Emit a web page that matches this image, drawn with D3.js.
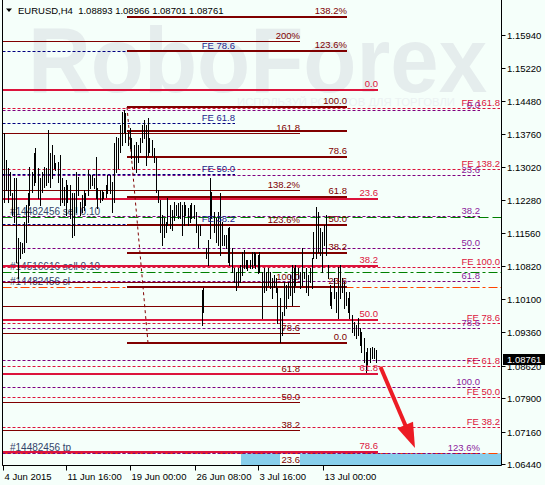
<!DOCTYPE html>
<html><head><meta charset="utf-8">
<script src="https://cdn.jsdelivr.net/npm/d3@7/dist/d3.min.js"></script>
<style>
html,body{margin:0;padding:0;background:#f5fffa;}
svg{display:block;font-family:"Liberation Sans",Arial,sans-serif;}
</style></head><body>
<svg id="chart" width="545" height="485"></svg>
<script>
// ---------------- DATA ----------------
const symbolTitle = "EURUSD,H4  1.08893 1.08966 1.08701 1.08761";
const lastPrice = 1.08761;

const barHigh = [1.1377,1.1317,1.1300,1.1291,1.1244,1.1278,1.1278,1.1145,1.1136,1.1134,
1.1180,1.1218,1.1244,1.1302,1.1291,1.1333,1.1344,1.1300,1.1278,1.1291,
1.1302,1.1300,1.1384,1.1333,1.1351,1.1328,1.1311,1.1313,1.1328,1.1278,
1.1258,1.1273,1.1262,1.1262,1.1244,1.1244,1.1291,1.1280,1.1224,1.1240,
1.1251,1.1244,1.1295,1.1284,1.1284,1.1278,1.1324,1.1255,1.1251,1.1251,
1.1247,1.1262,1.1284,1.1284,1.1269,1.1355,1.1368,1.1366,1.1395,1.1424,
1.1428,1.1421,1.1379,1.1388,1.1366,1.1351,1.1357,1.1351,1.1366,1.1395,
1.1406,1.1395,1.1410,1.1366,1.1362,1.1344,1.1322,1.1251,1.1229,1.1196,
1.1189,1.1180,1.1233,1.1218,1.1207,1.1224,1.1218,1.1222,1.1224,1.1218,
1.1224,1.1218,1.1211,1.1218,1.1222,1.1218,1.1202,1.1174,1.1174,1.1030,
1.1034,1.1123,1.1140,1.1278,1.1247,1.1202,1.1189,1.1202,1.1244,1.1180,
1.1151,1.1151,1.1167,1.1169,1.1123,1.1078,1.1070,1.1078,1.1085,1.1114,
1.1118,1.1096,1.1096,1.1096,1.1114,1.1114,1.1112,1.1107,1.1114,1.1070,
1.1078,1.1070,1.1078,1.1070,1.1056,1.1063,1.1056,1.1034,1.1012,1.0981,
1.1047,1.1041,1.1047,1.1063,1.1085,1.1078,1.1085,1.1078,1.1070,1.1123,
1.1070,1.1078,1.1063,1.1078,1.1101,1.1158,1.1213,1.1202,1.1167,1.1158,
1.1174,1.1196,1.1085,1.1041,1.1025,1.1056,1.1025,1.1081,1.1085,1.1056,
1.1047,1.1025,1.1012,1.1025,1.0974,1.0959,1.0952,1.0968,1.0946,1.0937,
1.0924,1.0893,1.0901,1.0901,1.0904,1.0901,1.08966];

const barLow = [1.1224,1.1251,1.1224,1.1240,1.1196,1.1180,1.1092,1.1056,1.1101,1.1112,
1.1114,1.1136,1.1180,1.1218,1.1247,1.1262,1.1269,1.1233,1.1218,1.1247,
1.1258,1.1262,1.1269,1.1258,1.1278,1.1300,1.1295,1.1269,1.1218,1.1224,
1.1218,1.1196,1.1224,1.1189,1.1147,1.1151,1.1202,1.1240,1.1196,1.1202,
1.1207,1.1218,1.1240,1.1255,1.1262,1.1255,1.1233,1.1211,1.1224,1.1229,
1.1233,1.1236,1.1244,1.1244,1.1202,1.1224,1.1291,1.1300,1.1335,1.1351,
1.1379,1.1357,1.1351,1.1344,1.1322,1.1300,1.1291,1.1313,1.1335,1.1357,
1.1366,1.1306,1.1328,1.1335,1.1328,1.1313,1.1247,1.1224,1.1158,1.1129,
1.1147,1.1158,1.1174,1.1167,1.1162,1.1185,1.1196,1.1189,1.1189,1.1151,
1.1174,1.1196,1.1174,1.1180,1.1189,1.1189,1.1158,1.1125,1.1151,1.0952,
1.0981,1.1101,1.1085,1.1145,1.1189,1.1158,1.1136,1.1129,1.1107,1.1129,
1.1129,1.1123,1.1092,1.1085,1.1070,1.1047,1.1030,1.1041,1.1047,1.1063,
1.1078,1.1078,1.1074,1.1078,1.1078,1.1085,1.1078,1.1067,1.1070,1.0968,
1.1025,1.1030,1.1041,1.1034,1.1012,1.1036,1.1025,1.0957,1.0915,1.0930,
1.0974,1.0990,1.1012,1.1019,1.0997,1.1025,1.1041,1.1056,1.1034,1.1041,
1.1056,1.1025,1.1019,1.1047,1.1034,1.1101,1.1101,1.1114,1.1107,1.1070,
1.1129,1.1107,1.1056,1.0997,1.0990,1.1012,1.0981,1.0968,1.1012,1.1025,
1.0990,1.0997,1.0981,1.0968,1.0937,1.0930,1.0924,1.0930,1.0908,1.0892,
1.0870,1.0848,1.0864,1.0870,1.0879,1.0879,1.08701];

const priceTicks = [1.15940,1.15220,1.14480,1.13760,1.13020,1.12280,1.11560,1.10820,1.10100,1.09360,1.08620,1.07900,1.07160,1.06440];
const timeTickBars = [0,32,64,96,128,160];
const timeTickLabels = ["4 Jun 2015","11 Jun 16:00","19 Jun 00:00","26 Jun 08:00","3 Jul 16:00","13 Jul 00:00"];

// Fibonacci objects: levels, labels, price at 0% and 100%, bar range
const crimsonLevels = [0,23.6,38.2,50,61.8,78.6];
const crimsonLabels = ["0.0","23.6","38.2","50.0","61.8","78.6"];
const crimsonAnchors = [1.14723,1.04544];
const crimsonBars = [-0.5,187.25];

const maroonLevels = [0,23.6,38.2,50,61.8,78.6,90,100,123.6,138.2];
const maroonLabels = ["0.0","23.6","38.2","50.0","61.8","78.6","","100.0","123.6%","138.2%"];
const maroonAnchors = [1.09124,1.14347];
const maroonBars = [61.75,171.75];
const maroonTrendBars = [61.75,72.25];

const thinLevels = [23.6,38.2,50,61.8,78.6,90,100,123.6,138.2,161.8,200];
const thinLabels = ["23.6","38.2","50.0","61.8","78.6","","100.0","123.6%","138.2%","161.8","200%"];
const thinAnchors = [1.05157,1.10481];
const thinBars = [-0.5,148.25];

const purpleLevels = [0,23.6,38.2,50,61.8,78.6,90,100,123.6];
const purpleLabels = ["0.0","23.6","38.2","50.0","61.8","78.6","","100.0","123.6%"];
const purpleAnchors = [1.14287,1.08144];
const purpleBars = [-0.5,238.25];

const feRedLevels = [38.2,50,61.8,78.6,100,138.2,161.8];
const feRedLabels = ["FE 38.2","FE 50.0","FE 61.8","FE 78.6","FE 100.0","FE 138.2","FE 161.8"];
const feRedAnchors = [1.05081,1.10799];
const feRedBars = [-0.5,248.25];

const feNavyLevels = [38.2,50,61.8,78.6];
const feNavyLabels = ["FE 38.2","FE 50.0","FE 61.8","FE 78.6"];
const feNavyAnchors = [1.08131,1.17615];
const feNavyBars = [-0.5,115.75];

// trade lines
const orderPrices = [1.11906,1.10689,1.10357,1.06701];
const orderLabels = ["#14482456 sell 0.10","#14516616 sell 0.10","#14482456 sl","#14482456 tp"];
const orderKinds = ["open","open2","sl","tp"];

// target zone rectangle (two visible parts)
const zoneTop = 1.06683, zoneBottom = 1.06409;
const zoneBarRanges = [[118.75,138.25],[148.25,249]];

// forecast arrow
const arrowBars = [188.5,205.75];
const arrowPrices = [1.08593,1.06801];

// ---------------- DRAW ----------------
const svg = d3.select("#chart");
const W=545,H=485;
const plotL=2.5, plotR=501.5, plotB=465.5;
const x = d3.scaleLinear().domain([0,249]).range([3.5,501.5]);
const y = d3.scaleLinear().domain([1.06440,1.15940]).range([464.3,35]);
const BG="#f5fffa";

svg.append("rect").attr("width",W).attr("height",H).attr("fill",BG);

// watermark
svg.append("text").attr("x",28).attr("y",92).attr("font-size",92).attr("font-weight","bold")
  .attr("fill","#e5eded").attr("textLength",459).attr("lengthAdjust","spacingAndGlyphs").text("RoboForex");
svg.append("text").attr("x",237).attr("y",106).attr("font-size",11)
  .attr("fill","#ebf2f2").attr("textLength",218).attr("lengthAdjust","spacingAndGlyphs").text("ИСПОЛЬЗУЙ РОБОТОВ ДЛЯ ТОРГОВЛИ");

const g = svg.append("g");

// zone rectangle
g.selectAll("rect.zone").data(zoneBarRanges).join("rect").attr("class","zone")
  .attr("x",d=>x(d[0])).attr("width",d=>Math.min(x(d[1]),plotR)-x(d[0]))
  .attr("y",y(zoneTop)).attr("height",y(zoneBottom)-y(zoneTop)).attr("fill","#87ceeb");

// order lines
const orderStyle = {
  open:{color:"#008000",dash:"10,4"},
  open2:{color:"#008000",dash:"9,3,3,3"},
  sl:{color:"#ff4500",dash:"9,3,3,3"},
  tp:{color:"#ff4500",dash:"9,3,3,3"}
};
orderPrices.forEach((p,i)=>{
  const st=orderStyle[orderKinds[i]];
  const yy=Math.round(y(p))+0.5;
  g.append("line").attr("x1",plotL).attr("x2",plotR).attr("y1",yy).attr("y2",yy)
    .attr("stroke",st.color).attr("stroke-width",1).attr("stroke-dasharray",st.dash);
  g.append("text").attr("x",10).attr("y",yy-2.5).attr("font-size",10).attr("fill","#34456a")
    .text(orderLabels[i]);
});

function levelY(anchors,L){return Math.round(y(anchors[0]+(anchors[1]-anchors[0])*L/100));}

function fiboLines(levels,anchors,bars,color,width,dash){
  levels.forEach(L=>{
    const yy=levelY(anchors,L)+(width%2?0.5:0);
    g.append("line").attr("x1",Math.max(x(bars[0]),plotL)).attr("x2",Math.min(x(bars[1]),plotR))
      .attr("y1",yy).attr("y2",yy).attr("stroke",color).attr("stroke-width",width)
      .attr("stroke-dasharray",dash||null);
  });
}
function fiboLabels(levels,labels,anchors,bars,color,off){
  levels.forEach((L,i)=>{
    if(!labels[i]) return;
    const yy=levelY(anchors,L);
    g.append("text").attr("x",Math.min(x(bars[1]),plotR)).attr("y",yy-off).attr("text-anchor","end")
      .attr("font-size",9.5).attr("fill",color).text(labels[i]);
  });
}

// dashed level lines
fiboLines(feNavyLevels,feNavyAnchors,feNavyBars,"#000080",1,"3,2");
fiboLines(feRedLevels,feRedAnchors,feRedBars,"#dc143c",1,"3,2");
fiboLines(purpleLevels,purpleAnchors,purpleBars,"#800080",1,"3,2");
// thin solid
fiboLines(thinLevels,thinAnchors,thinBars,"#800000",1,null);
// thick
fiboLines(crimsonLevels,crimsonAnchors,crimsonBars,"#dc143c",2,null);
fiboLines(maroonLevels,maroonAnchors,maroonBars,"#800000",2,null);
// trend line of maroon fibo
g.append("line").attr("x1",x(maroonTrendBars[0])).attr("y1",y(maroonAnchors[1]))
  .attr("x2",x(maroonTrendBars[1])).attr("y2",y(maroonAnchors[0]))
  .attr("stroke","#800000").attr("stroke-width",1).attr("stroke-dasharray","3,3");

// bars (high-low)
g.selectAll("line.bar").data(barHigh).join("line").attr("class","bar")
  .attr("x1",(d,i)=>Math.round(x(i))+0.5).attr("x2",(d,i)=>Math.round(x(i))+0.5)
  .attr("y1",d=>Math.round(y(d))).attr("y2",(d,i)=>Math.round(y(barLow[i]))+1)
  .attr("stroke","#000").attr("stroke-width",1);

// labels
fiboLabels(thinLevels,thinLabels,thinAnchors,thinBars,"#800000",2);
fiboLabels(maroonLevels,maroonLabels,maroonAnchors,maroonBars,"#800000",3);
fiboLabels(crimsonLevels,crimsonLabels,crimsonAnchors,crimsonBars,"#dc143c",3);
fiboLabels(feNavyLevels,feNavyLabels,feNavyAnchors,feNavyBars,"#1c1c8c",2);
fiboLabels(feRedLevels,feRedLabels,feRedAnchors,feRedBars,"#dc143c",2);
fiboLabels(purpleLevels,purpleLabels,purpleAnchors,purpleBars,"#8b1a9b",2);

// arrow
(function(){
  const x0=x(arrowBars[0]),y0=y(arrowPrices[0]),x1=x(arrowBars[1]),y1=y(arrowPrices[1]);
  const dx=x1-x0,dy=y1-y0,len=Math.hypot(dx,dy),ux=dx/len,uy=dy/len;
  const hl=25,hw=8.5;
  const bx=x1-ux*hl,by=y1-uy*hl;
  g.append("line").attr("x1",x0).attr("y1",y0).attr("x2",bx+ux*2).attr("y2",by+uy*2)
    .attr("stroke","#ec1c24").attr("stroke-width",4);
  g.append("path").attr("d",`M${x1},${y1}L${bx-uy*hw},${by+ux*hw}L${bx+uy*hw},${by-ux*hw}Z`)
    .attr("fill","#ec1c24");
})();

// frame
svg.append("line").attr("x1",plotL).attr("x2",plotL).attr("y1",0).attr("y2",plotB).attr("stroke","#000");
svg.append("line").attr("x1",plotR).attr("x2",plotR).attr("y1",0).attr("y2",plotB).attr("stroke","#000");
svg.append("line").attr("x1",plotL).attr("x2",plotR).attr("y1",plotB).attr("y2",plotB).attr("stroke","#000");

// right axis
priceTicks.forEach(p=>{
  const yy=Math.round(y(p))+0.5;
  svg.append("line").attr("x1",plotR).attr("x2",plotR+4).attr("y1",yy).attr("y2",yy).attr("stroke","#000");
  svg.append("text").attr("x",507).attr("y",yy+3.5).attr("font-size",9.5).attr("fill","#000").text(p.toFixed(5));
});
// current price box
{
  const yy=Math.round(y(lastPrice));
  svg.append("rect").attr("x",503).attr("y",yy-5).attr("width",42).attr("height",11).attr("fill","#000");
  svg.append("text").attr("x",507).attr("y",yy+4).attr("font-size",9.5).attr("fill","#fff").text(lastPrice.toFixed(5));
}
// bottom axis
timeTickBars.forEach((b,i)=>{
  const xx=Math.round(x(b))-0.5;
  svg.append("line").attr("x1",xx).attr("x2",xx).attr("y1",plotB).attr("y2",plotB+5).attr("stroke","#000");
  svg.append("text").attr("x",xx+1).attr("y",480).attr("font-size",9.5).attr("fill","#000").text(timeTickLabels[i]);
});

// title
svg.append("path").attr("d","M6,8.5L12,8.5L9,12Z").attr("fill","#000");
svg.append("text").attr("x",18).attr("y",14).attr("font-size",9.5).attr("fill","#000")
  .attr("xml:space","preserve").style("white-space","pre").text(symbolTitle);
</script>
</body></html>
